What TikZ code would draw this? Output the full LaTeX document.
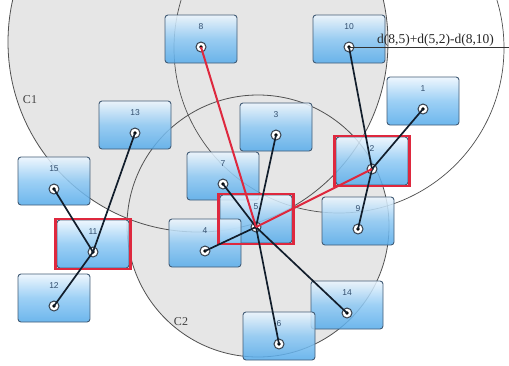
\documentclass[tikz,border=0pt]{standalone}
\usepackage{fontspec}
\setmainfont{Liberation Serif}
\newfontfamily\lblfont{Liberation Sans}
\usetikzlibrary{calc}
\definecolor{cfill}{RGB}{230,230,230}
\definecolor{cline}{RGB}{80,80,80}
\definecolor{boxborder}{RGB}{66,92,118}
\definecolor{boxtop}{RGB}{236,246,254}
\definecolor{boxmid}{RGB}{140,200,244}
\definecolor{boxbot}{RGB}{84,170,234}
\definecolor{redc}{RGB}{222,40,62}
\definecolor{edgec}{RGB}{18,30,44}
\definecolor{lblc}{RGB}{50,78,110}
\tikzset{
  boxn/.style={draw=boxborder, line width=0.9pt, rounded corners=3pt,
    minimum width=72pt, minimum height=48pt, inner sep=0pt,
    top color=boxtop, bottom color=boxbot, middle color=boxmid, fill opacity=0.85, draw opacity=1},
  redbox/.style={draw=redc, line width=2.4pt, minimum width=75pt, minimum height=50pt, inner sep=0pt},
  mk/.style={circle, fill=white, draw=edgec!85, line width=1pt, minimum size=10pt, inner sep=0pt,
    path picture={\fill[black] (path picture bounding box.center) circle[radius=1.8pt];}},
  lbl/.style={font=\lblfont\fontsize{8.5}{9}\selectfont, text=lblc, inner sep=0pt},
  edge/.style={draw=edgec, line width=1.7pt},
  redge/.style={draw=redc, line width=2pt},
  circline/.style={draw=cline, line width=0.8pt},
  clbl/.style={font=\fontsize{12}{14}\selectfont, text=black!75, inner sep=0pt}
}
\newcommand{\mybox}[3]{%
  \node[boxn] (b#1) at (#2,#3) {};
  \node[lbl] (l#1) at (#2,{#3-12}) {#1};
  \node[mk] (m#1) at (#2,{#3+8}) {};
}
\begin{document}
\begin{tikzpicture}[x=1pt,y=-1pt]
\useasboundingbox (0,0) rectangle (509,365);
\clip (0,0) rectangle (509,365);
\fill[white] (0,0) rectangle (509,365);
% cluster circles
\fill[cfill] (198,42) circle[radius=190pt];
\fill[cfill] (258,226) circle[radius=131pt];
\draw[circline] (198,42) circle[radius=190pt];
\draw[circline] (258,226) circle[radius=131pt];
\draw[circline, line width=0.7pt] (339,48) circle[radius=165pt];
\node[clbl] (c1) at (30,100) {C1};
\node[clbl] (c2) at (181,322) {C2};
% boxes
\mybox{8}{201}{39}
\mybox{10}{349}{39}
\mybox{1}{423}{101}
\mybox{3}{276}{127}
\mybox{13}{135}{125}
\mybox{15}{54}{181}
\mybox{7}{223}{176}
\mybox{2}{372}{161}
\mybox{5}{256}{219}
\mybox{11}{93}{244}
\mybox{4}{205}{243}
\mybox{9}{358}{221}
\mybox{12}{54}{298}
\mybox{14}{347}{305}
\mybox{6}{279}{336}
\node[redbox] (r2) at (b2) {};
\node[redbox] (r5) at (b5) {};
\node[redbox] (r11) at (b11) {};
% edges
\draw[edge] (m15.center) -- (m11.center);
\draw[edge] (m13.center) -- (m11.center);
\draw[edge] (m12.center) -- (m11.center);
\draw[edge] (m3.center) -- (m5.center);
\draw[edge] (m7.center) -- (m5.center);
\draw[edge] (m4.center) -- (m5.center);
\draw[edge] (m14.center) -- (m5.center);
\draw[edge] (m6.center) -- (m5.center);
\draw[edge] (m10.center) -- (m2.center);
\draw[edge] (m1.center) -- (m2.center);
\draw[edge] (m9.center) -- (m2.center);
\draw[redge] (m8.center) -- (m5.center);
\draw[redge] (m5.center) -- (m2.center);
% distance annotation
\coordinate (lend) at (509,47);
\draw[draw=black!80, line width=0.9pt] (m10.center) -- (lend);
\node[anchor=base west, inner sep=0pt, font=\fontsize{13.5}{15}\selectfont, text=black!85] (dtxt) at (377,43) {d(8,5)+d(5,2)-d(8,10)};
\end{tikzpicture}
\end{document}
